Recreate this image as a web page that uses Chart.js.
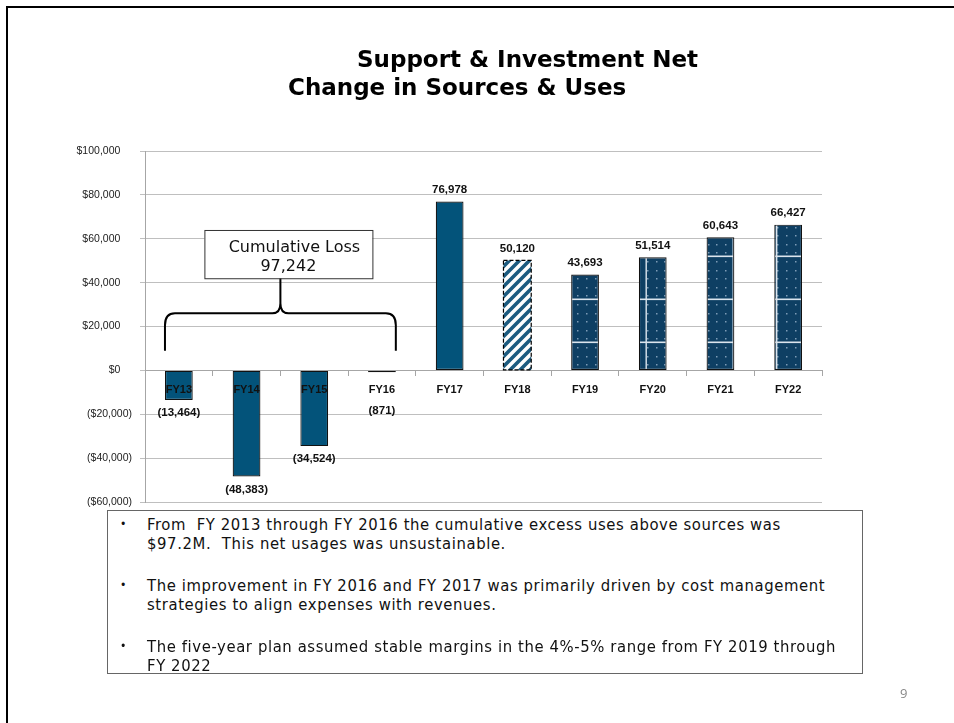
<!DOCTYPE html>
<html>
<head>
<meta charset="utf-8">
<script src="https://cdn.jsdelivr.net/npm/chart.js@4.4.1/dist/chart.umd.min.js"></script>
<style>
body{margin:0;width:954px;height:723px;position:relative;background:#fff;overflow:hidden;font-family:"DejaVu Sans",sans-serif}
#frame{position:absolute;left:6px;top:6px;width:960px;height:730px;border-left:2px solid #000;border-top:2px solid #000}
#wrap{position:absolute;left:0;top:0;width:954px;height:723px}
.title{position:absolute;font-weight:bold;font-size:23px;white-space:nowrap;color:#000}
#notes{position:absolute;left:107px;top:510px;width:754px;height:162px;border:1.5px solid #666;background:#fff;
  font-family:"DejaVu Sans Condensed","DejaVu Sans",sans-serif;font-size:16.5px;letter-spacing:0.6px;line-height:19px;color:#111}
#notes p{position:absolute;left:39px;margin:0;width:700px}
#notes p:before{content:"\2022";position:absolute;left:-27px;font-size:12px}
#page{position:absolute;left:900px;top:684px;font-size:13px;color:#888;font-family:"Open Sans",sans-serif}
</style>
</head>
<body>
<div id="frame"></div>
<div id="wrap"><canvas id="chart"></canvas></div>
<div class="title" style="left:357px;top:46px">Support &amp; Investment Net</div>
<div class="title" style="left:288px;top:74px">Change in Sources &amp; Uses</div>
<div id="notes">
  <p style="top:4px">From&nbsp; FY 2013 through FY 2016 the cumulative excess uses above sources was $97.2M.&nbsp; This net usages was unsustainable.</p>
  <p style="top:65px">The improvement in FY 2016 and FY 2017 was primarily driven by cost management strategies to align expenses with revenues.</p>
  <p style="top:126px">The five-year plan assumed stable margins in the 4%-5% range from FY 2019 through FY 2022</p>
</div>
<div id="page">9</div>
<script>
// values (thousands of $)
var categories = ['FY13','FY14','FY15','FY16','FY17','FY18','FY19','FY20','FY21','FY22'];
var netChange = [-13464, -48383, -34524, -871, 76978, 50120, 43693, 51514, 60643, 66427];
var barKinds = ['actual','actual','actual','actual','actual','budget','plan','plan','plan','plan'];
var yTickValues = [-60000, -40000, -20000, 0, 20000, 40000, 60000, 80000, 100000];
var lossLabel = ['Cumulative Loss', '97,242'];
var lossRange = ['FY13', 'FY16'];

// stripes for the budget year
stripes=()=>{
	var c = document.createElement('canvas');
	c.width = 10; c.height = 10;
	var g = c.getContext('2d');
	g.fillStyle = '#ffffff';
	g.fillRect(0, 0, 10, 10);
	g.strokeStyle = '#1c5b80';
	g.lineWidth = 3.6;
	g.beginPath();
	g.moveTo(-3, 13); g.lineTo(13, -3);
	g.moveTo(-3, 3); g.lineTo(3, -3);
	g.moveTo(7, 13); g.lineTo(13, 7);
	g.stroke();
	return g.createPattern(c, 'repeat');
}

// dotted navy texture with the light grid lines for plan years
dots=()=>{
	var c = document.createElement('canvas');
	c.width = 87; c.height = 43;
	var g = c.getContext('2d');
	g.fillStyle = '#0e3f63';
	g.fillRect(0, 0, 87, 43);
	g.fillStyle = '#7d9bb6';
	for (var yy = 3; yy < 43; yy += 8.6) {
		for (var xx = 3; xx < 87; xx += 8.7) {
			g.fillRect(Math.round(xx), Math.round(yy), 1.5, 1.5);
		}
	}
	g.fillStyle = '#dbe5ee';
	g.fillRect(0, 40.5, 87, 1.6);
	g.fillRect(36.5, 0, 1.4, 43);
	g.fillRect(80, 0, 1.4, 43);
	return g.createPattern(c, 'repeat');
}

var fills = {actual: '#03537a', budget: stripes(), plan: dots()};

money=(v)=>{
	var s = '$' + Math.abs(v).toLocaleString('en-US');
	return v < 0 ? '(' + s + ')' : s + '\u2007\u2007';
}

var valueLabels = {
	id: 'valueLabels',
	afterDatasetsDraw(chart) {
		var ctx = chart.ctx, y = chart.scales.y;
		var zero = y.getPixelForValue(0);
		var bars = chart.getDatasetMeta(0).data;
		ctx.save();
		// dashed outline on the budget bar
		bars.forEach((bar, i) => {
			if (barKinds[i] != 'budget') return;
			ctx.setLineDash([4, 2]);
			ctx.strokeStyle = '#000';
			ctx.lineWidth = 1.2;
			ctx.strokeRect(bar.x - bar.width / 2, bar.y, bar.width, bar.base - bar.y);
			ctx.setLineDash([]);
		});
		ctx.font = 'bold 11.5px "Liberation Sans"';
		ctx.fillStyle = '#111';
		ctx.textAlign = 'center';
		ctx.textBaseline = 'middle';
		bars.forEach((bar, i) => {
			var v = netChange[i];
			var txt = v < 0 ? '(' + Math.abs(v).toLocaleString('en-US') + ')' : v.toLocaleString('en-US');
			var ty = v < 0 ? Math.max(bar.y + 13, zero + 40) : bar.y - 12;
			ctx.fillText(txt, bar.x, ty);
		});
		ctx.restore();
	}
};

var lossBrace = {
	id: 'lossBrace',
	afterDatasetsDraw(chart) {
		var ctx = chart.ctx, y = chart.scales.y;
		var bars = chart.getDatasetMeta(0).data;
		var b0 = bars[categories.indexOf(lossRange[0])];
		var b1 = bars[categories.indexOf(lossRange[1])];
		var L = b0.x - b0.width / 2, R = b1.x + b1.width / 2, M = (L + R) / 2;
		var yb = y.getPixelForValue(9000), yh = y.getPixelForValue(26000), yt = y.getPixelForValue(42000);
		ctx.save();
		ctx.strokeStyle = '#000';
		ctx.lineWidth = 2;
		ctx.beginPath();
		ctx.moveTo(L, yb);
		ctx.lineTo(L, yh + 12);
		ctx.quadraticCurveTo(L, yh, L + 10, yh);
		ctx.lineTo(M - 8, yh);
		ctx.quadraticCurveTo(M, yh, M, yh - 10);
		ctx.lineTo(M, yt);
		ctx.moveTo(M, yh - 10);
		ctx.quadraticCurveTo(M, yh, M + 8, yh);
		ctx.lineTo(R - 10, yh);
		ctx.quadraticCurveTo(R, yh, R, yh + 12);
		ctx.lineTo(R, yb);
		ctx.stroke();
		// callout box
		var top = y.getPixelForValue(64000);
		var cx = M + 8, w = 168;
		ctx.fillStyle = '#fff';
		ctx.fillRect(cx - w / 2, top, w, yt - top);
		ctx.lineWidth = 1;
		ctx.strokeStyle = '#333';
		ctx.strokeRect(cx - w / 2 + 0.5, top + 0.5, w, yt - top);
		ctx.fillStyle = '#111';
		ctx.font = '16px "DejaVu Sans"';
		ctx.textAlign = 'center';
		ctx.textBaseline = 'middle';
		ctx.fillText(lossLabel[0], cx + 6, top + 18);
		ctx.fillText(lossLabel[1], cx, top + 37);
		ctx.restore();
	}
};

var ctx = document.getElementById('chart').getContext('2d');
var chart = new Chart(ctx, {
	type: 'bar',
	data: {
		labels: categories,
		datasets: [{
			data: netChange,
			backgroundColor: barKinds.map(k => fills[k]),
			borderColor: '#111',
			borderWidth: barKinds.map(k => k == 'budget' ? 0 : 1.2),
			borderSkipped: false,
			barPercentage: 0.41,
			categoryPercentage: 1
		}]
	},
	options: {
		responsive: true,
		maintainAspectRatio: false,
		animation: false,
		layout: {padding: {left: 45, top: 151, right: 132, bottom: 221}},
		plugins: {legend: {display: false}, tooltip: {enabled: false}},
		scales: {
			x: {
				position: {y: 0},
				afterFit: (s) => { s.height = 0; },
				grid: {drawOnChartArea: false, drawTicks: true, tickLength: 5, color: '#a6a6a6'},
				border: {color: '#a6a6a6'},
				ticks: {z: 1, padding: 8, color: '#111', font: {family: 'Liberation Sans', size: 11, weight: 'bold'}}
			},
			y: {
				min: yTickValues[0],
				max: yTickValues[yTickValues.length - 1],
				afterFit: (s) => { s.width = 100; },
				afterBuildTicks: (s) => { s.ticks = yTickValues.map(v => ({value: v})); },
				grid: {color: '#bfbfbf', tickLength: 5},
				border: {color: '#a6a6a6'},
				ticks: {padding: 8, color: '#222', font: {family: 'Liberation Sans', size: 10.5}, callback: (v) => money(v)}
			}
		}
	},
	plugins: [valueLabels, lossBrace]
});
</script>
</body>
</html>
